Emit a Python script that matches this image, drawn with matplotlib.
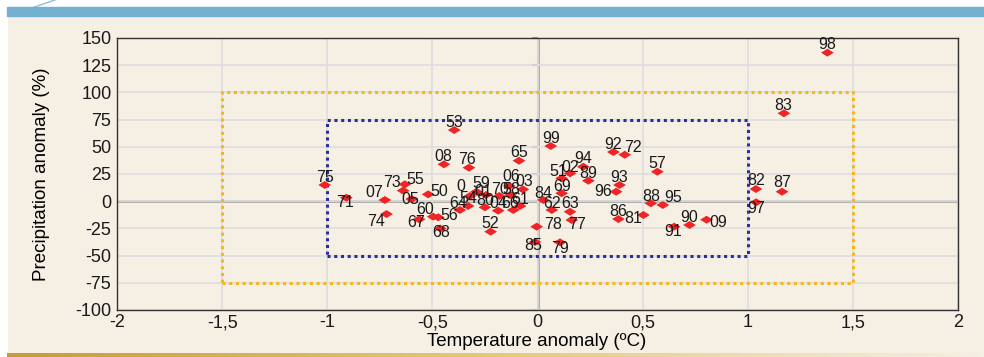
import numpy as np
import matplotlib
matplotlib.use("Agg")
import matplotlib.pyplot as plt
from matplotlib.path import Path
from matplotlib.patches import Rectangle
from matplotlib import font_manager

plt.rcParams['axes.unicode_minus'] = False

# year labels, temperature anomaly (ºC), precipitation anomaly (%)
years = ["53", "08", "76", "65", "75", "71", "07", "73", "55", "05",
         "50", "74", "67", "60", "56", "68", "64", "54", "0", "59",
         "01", "80", "04", "66", "61", "70", "58", "06", "03", "52",
         "99", "92", "72", "57", "94", "02", "51", "89", "93", "96",
         "69", "84", "62", "63", "77", "78", "85", "79", "86", "81",
         "88", "95", "91", "90", "09", "82", "87", "97", "83", "98"]
temp = [-0.396, -0.445, -0.326, -0.088, -1.012, -0.909, -0.726, -0.639, -0.631, -0.598,
        -0.520, -0.718, -0.563, -0.496, -0.472, -0.462, -0.369, -0.330, -0.321, -0.290,
        -0.245, -0.250, -0.187, -0.115, -0.083, -0.182, -0.128, -0.134, -0.070, -0.223,
        0.063, 0.361, 0.415, 0.570, 0.218, 0.155, 0.115, 0.242, 0.390, 0.374,
        0.115, 0.028, 0.068, 0.155, 0.163, -0.004, -0.012, 0.107, 0.385, 0.504,
        0.539, 0.596, 0.650, 0.723, 0.804, 1.039, 1.163, 1.040, 1.172, 1.379]
precip = [65.4, 33.9, 30.8, 37.2, 14.9, 3.2, 1.1, 9.7, 15.5, 2.0,
          6.3, -11.8, -16.6, -14.2, -14.8, -25.1, -8.1, -4.4, 4.8, 8.7,
          5.7, -5.6, -8.7, -8.1, -4.4, 4.8, 5.7, 14.0, 10.9, -28.0,
          50.7, 45.2, 42.7, 27.1, 31.7, 25.6, 21.0, 18.8, 14.9, 8.7,
          7.3, 1.1, -8.1, -9.7, -17.3, -23.4, -37.5, -37.8, -16.4, -12.7,
          -1.9, -3.5, -23.4, -21.9, -17.0, 11.2, 8.7, -1.0, 80.8, 136.5]

# label placement (pixels from the marker)
label_offsets = {
    "53": (0, 8), "08": (-1, 8), "76": (-2, 8), "65": (0, 8), "75": (0, 7),
    "71": (-1, -5), "07": (-11, 8), "73": (-11, 8), "55": (10, 5), "05": (-2, 0),
    "50": (11, 3), "74": (-10, -7), "67": (-3, -3), "60": (-8, 7), "56": (11, 2),
    "68": (1, -4), "64": (-2, 7), "54": (0, 7), "0": (-9, 9), "59": (5, 8),
    "01": (-3, 3), "80": (0, 7), "04": (0, 7), "66": (-3, 7), "61": (0, 6),
    "70": (1, 6), "58": (1, 5), "06": (2, 9), "03": (1, 8), "52": (0, 8),
    "99": (0, 8), "92": (0, 8), "72": (8, 7), "57": (0, 8), "94": (0, 8),
    "02": (0, 6), "51": (-3, 7), "89": (0, 7), "93": (0, 7), "96": (-13, 0),
    "69": (0, 7), "84": (0, 7), "62": (0, 7), "63": (0, 8), "77": (5, -4),
    "78": (16, 2), "85": (-2, -4), "79": (0, -6), "86": (0, 8), "81": (-10, -3),
    "88": (0, 7), "95": (10, 8), "91": (-1, -5), "90": (0, 8), "09": (12, -3),
    "82": (0, 9), "87": (0, 9), "97": (0, -6), "83": (-1, 8), "98": (0, 8),
}

x_ticks = [-2, -1.5, -1, -0.5, 0, 0.5, 1, 1.5, 2]
x_ticklabels = ["-2", "-1,5", "-1", "-0,5", "0", "0,5", "1", "1,5", "2"]
y_ticks = [150, 125, 100, 75, 50, 25, 0, -25, -50, -75, -100]

inner_box = (-1, 1, -50, 75)
outer_box = (-1.5, 1.5, -75, 100)

BG = "#f5efe4"


def pick_font(names):
    have = {f.name for f in font_manager.fontManager.ttflist}
    for n in names:
        if n in have:
            return n
    return "DejaVu Sans"


narrow = pick_font(["Liberation Sans Narrow", "Liberation Sans", "DejaVu Sans"])
regular = pick_font(["Liberation Sans", "DejaVu Sans"])

diamond = Path([(-1, 0), (0, 0.62), (1, 0), (0, -0.62), (-1, 0)],
               [Path.MOVETO, Path.LINETO, Path.LINETO, Path.LINETO, Path.CLOSEPOLY])


def main():
    fig = plt.figure(figsize=(9.84, 3.57), dpi=100)
    fig.patch.set_facecolor(BG)

    # page decoration: white margins, blue band on top, gold line at bottom
    fig.patches.append(Rectangle((0, 0), 7 / 984, 1, transform=fig.transFigure,
                                 color="white", zorder=-5))
    fig.patches.append(Rectangle((0, 350 / 357), 1, 7 / 357, transform=fig.transFigure,
                                 color="white", zorder=-5))
    fig.patches.append(Rectangle((7 / 984, 341 / 357), 977 / 984, 9 / 357,
                                 transform=fig.transFigure, color="#74b0cf", zorder=-4))
    fig.lines.append(plt.Line2D([8 / 984, 55 / 984], [341 / 357, 1.0],
                                transform=fig.transFigure, color="#8cc0da", lw=1, zorder=-4))
    grad = np.linspace(0, 1, 256).reshape(1, -1)
    gax = fig.add_axes([7 / 984, 0, 977 / 984, 4 / 357])
    gcols = matplotlib.colors.LinearSegmentedColormap.from_list(
        "g", ["#c99a3a", "#e8c978", "#f5efe4"])
    gax.imshow(grad, aspect="auto", cmap=gcols)
    gax.axis("off")

    ax = fig.add_axes([117 / 984, 1 - 310 / 357, 841 / 984, 272 / 357])
    ax.set_facecolor(BG)
    ax.set_xlim(-2, 2)
    ax.set_ylim(-100, 150)

    ax.set_xticks(x_ticks)
    ax.set_xticklabels(x_ticklabels)
    ax.set_yticks(y_ticks)
    ax.tick_params(length=0, labelsize=13, colors="#1a1a1a")
    ax.tick_params(axis="x", pad=3)
    ax.tick_params(axis="y", pad=4)
    for t in ax.get_xticklabels() + ax.get_yticklabels():
        t.set_fontfamily(narrow)
    ax.grid(True, color="#dedede", lw=1.2, zorder=0)
    ax.axhline(0, color="#9a9a9a", lw=1.8, zorder=1)
    ax.axvline(0, color="#9a9a9a", lw=1.8, zorder=1)
    # small tick marks on the vertical zero line
    ax.plot([0] * len(y_ticks), y_ticks, ls="none", marker=0, ms=4,
            mew=1.5, color="#9a9a9a", zorder=1, clip_on=False)
    for s in ax.spines.values():
        s.set_color("#333333")
        s.set_linewidth(1.0)

    for (x0, x1, y0, y1), col in [(outer_box, "#f4b81c"), (inner_box, "#2b2f9a")]:
        ax.plot([x0, x1, x1, x0, x0], [y0, y0, y1, y1, y0], color=col,
                lw=2.2, ls=(0, (1, 1.2)), zorder=2)

    ax.scatter(temp, precip, marker=diamond, s=85, color="#ee2427",
               edgecolors="none", zorder=3)
    for yr, x, y in zip(years, temp, precip):
        dx, dy = label_offsets[yr]
        ax.annotate(yr, (x, y), xytext=(dx, dy), textcoords="offset pixels",
                    ha="center", va="center", fontsize=11.5, family=regular,
                    color="#1a1a1a", zorder=4)

    ax.set_xlabel("Temperature anomaly (ºC)", fontsize=13.5, family=narrow)
    ax.set_ylabel("Precipitation anomaly (%)", fontsize=13.5, family=narrow)
    ax.xaxis.set_label_coords((537 - 117) / 841, (310 - 333) / 272)
    ax.yaxis.set_label_coords((50 - 117) / 841, 0.5)

    fig.savefig("out.png", dpi=100, facecolor=fig.get_facecolor())


if __name__ == "__main__":
    main()
